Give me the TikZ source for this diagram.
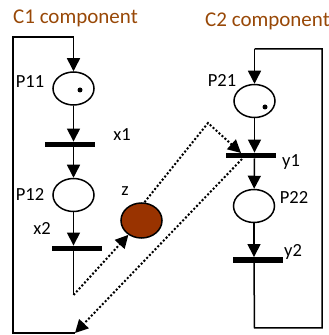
\documentclass[tikz,border=0pt]{standalone}
\usepackage{fontspec}
\setmainfont{Carlito}
\usetikzlibrary{shapes.geometric,arrows.meta}
\definecolor{titlebrown}{HTML}{984807}
\definecolor{zbrown}{HTML}{993300}
\begin{document}
\begin{tikzpicture}[x=1pt,y=1pt,
  place/.style={ellipse, draw, line width=1.5pt, minimum width=41pt, minimum height=33pt, inner sep=0pt},
  trans/.style={rectangle, fill=black, minimum width=50pt, minimum height=5.5pt, inner sep=0pt},
  arc/.style={line width=1.5pt, -{Triangle[length=13pt,width=13pt]}},
  plain/.style={line width=1.5pt},
  dotarc/.style={line width=2pt, dash pattern=on 2pt off 2pt, -{Triangle[length=13pt,width=13pt]}},
  lbl/.style={font=\fontsize{18.5}{22}\selectfont, inner sep=0pt},
  title/.style={font=\fontsize{21}{25}\selectfont, text=titlebrown, inner sep=0pt},
  token/.style={circle, fill=black, minimum size=5pt, inner sep=0pt}]
\useasboundingbox (0,0) rectangle (329,335);
% titles
\node[title] (t1) at (75.5,317) {C1 component};
\node[title, anchor=west] (t2) at (205,314) {C2 component};
% C1 component
\node[place] (P11) at (73.5,246.5) {};
\node[token] (k11) at (80,245) {};
\node[trans] (x1) at (70,190.5) {};
\node[place] (P12) at (73.5,140) {};
\node[trans] (x2) at (77,86.5) {};
\coordinate (e2) at (73.5,40);
\coordinate (c1a) at (75,2);
\coordinate (c1b) at (13,2);
\coordinate (c1c) at (13,298);
\coordinate (c1d) at (73.5,298);
\node[lbl] (lP11) at (30,253) {P11};
\node[lbl] (lx1) at (122,200) {x1};
\node[lbl] (lP12) at (30,141) {P12};
\node[lbl] (lx2) at (42,107) {x2};
% z
\node[ellipse, draw, line width=1.5pt, fill=zbrown, minimum width=41pt, minimum height=35pt, inner sep=0pt] (z) at (141.5,114.5) {};
\node[lbl] (lz) at (125,144) {z};
% C2 component
\node[place] (P21) at (254.5,234) {};
\node[token] (k21) at (265,228) {};
\node[trans] (y1) at (250.5,179.5) {};
\node[place] (P22) at (254,129) {};
\node[trans] (y2) at (258,75) {};
\coordinate (c2a) at (254.5,7);
\coordinate (c2b) at (322,7);
\coordinate (c2c) at (322,286);
\coordinate (c2d) at (254.5,286);
\node[lbl] (lP21) at (222,255) {P21};
\node[lbl] (ly1) at (291,173) {y1};
\node[lbl] (lP22) at (294,138) {P22};
\node[lbl] (ly2) at (293,83) {y2};
% C1 arcs
\draw[plain] (c1a) -- (c1b) -- (c1c) -- (c1d);
\draw[arc] (c1d) -- (P11);
\draw[arc] (P11) -- (P11 |- x1.north);
\draw[arc] (P11 |- x1.south) -- (P12);
\draw[arc] (P12) -- (P12 |- x2.north);
\draw[plain] (P12 |- x2.south) -- (e2);
% C2 arcs
\draw[arc] (c2d) -- (P21);
\draw[arc] (P21) -- (P21 |- y1.north);
\draw[arc] (P21 |- y1.south) -- (P22);
\draw[arc] (P22) -- (P22 |- y2.north);
\draw[plain] (P22 |- y2.south) -- (c2a) -- (c2b) -- (c2c) -- (c2d);
% dotted interactions
\coordinate (m1) at (208,212);
\coordinate (y1in) at (241,182);
\coordinate (y1out) at (242,176);
\draw[dotarc] (e2) -- (z);
\draw[dotarc] (z.north) ++(3,0) coordinate (zt) (zt) -- (m1) -- (y1in);
\draw[dotarc] (y1out) -- (c1a);
\end{tikzpicture}
\end{document}
